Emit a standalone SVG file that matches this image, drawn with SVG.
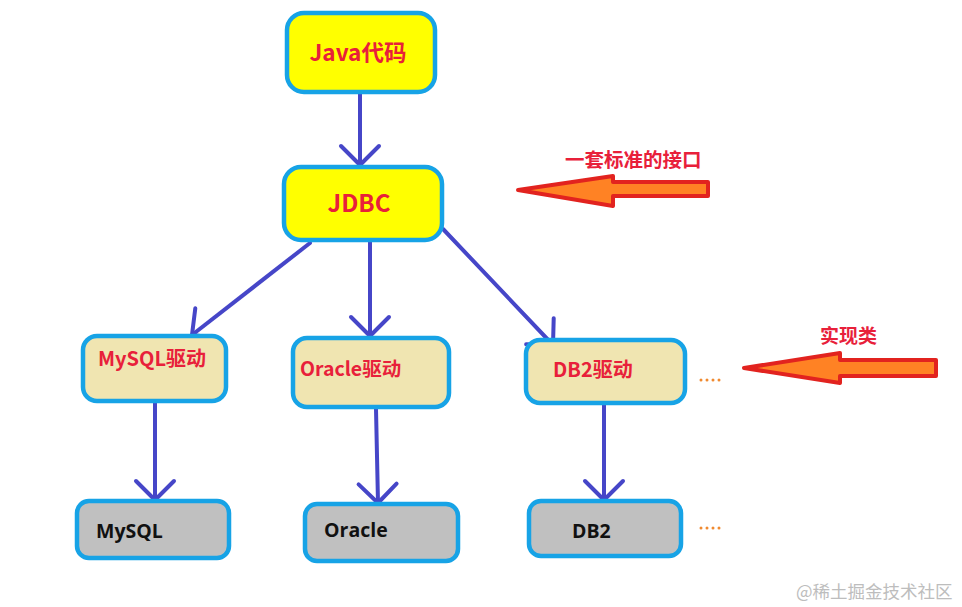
<svg xmlns="http://www.w3.org/2000/svg" width="962" height="607" viewBox="0 0 962 607">
<style>
.box{stroke:#17a3e6;stroke-width:4.5}
.y{fill:#ffff00}
.k{fill:#f0e5b1}
.g{fill:#c0c0c0}
.t{font-family:"Noto Sans CJK SC","Noto Sans",sans-serif;font-weight:bold;fill:#e8203a}
.b{font-family:"Open Sans","Noto Sans",sans-serif;font-weight:bold;fill:#111;font-size:19.5px}
.c{stroke:#4646c8;stroke-width:4;fill:none;stroke-linecap:round}
.big{fill:#ff8224;stroke:#e2231f;stroke-width:4;stroke-linejoin:round}
.dots{fill:#f08a30}
</style>
<defs>
<marker id="v" markerUnits="userSpaceOnUse" viewBox="-24 -24 28 48" refX="0" refY="0" markerWidth="28" markerHeight="48" orient="auto" overflow="visible">
<path d="M-19,-19 L0,0 L-19,19" fill="none" stroke="#4646c8" stroke-width="4" stroke-linecap="round" stroke-linejoin="round"/>
</marker>
</defs>
<rect width="962" height="607" fill="#fff"/>
<g id="connectors">
<line class="c" x1="360" y1="94" x2="360" y2="165" marker-end="url(#v)"/>
<line class="c" x1="310" y1="243" x2="192" y2="335" marker-end="url(#v)"/>
<line class="c" x1="370" y1="242" x2="370" y2="336" marker-end="url(#v)"/>
<line class="c" x1="443" y1="229" x2="553" y2="345" marker-end="url(#v)"/>
<line class="c" x1="155" y1="403" x2="155" y2="500" marker-end="url(#v)"/>
<line class="c" x1="376" y1="409" x2="378" y2="503" marker-end="url(#v)"/>
<line class="c" x1="604" y1="405" x2="604" y2="500" marker-end="url(#v)"/>
</g>
<g id="java">
<rect class="box y" x="287" y="13" width="148" height="79" rx="17"/>
<text class="t" x="358" y="61" font-size="22.5" text-anchor="middle">Java代码</text>
</g>
<g id="jdbc">
<rect class="box y" x="284" y="167" width="158" height="73" rx="17"/>
<text class="t" x="359" y="212" font-size="24" text-anchor="middle">JDBC</text>
</g>
<g id="mysql-driver">
<rect class="box k" x="83" y="336" width="143" height="65" rx="14"/>
<text class="t" x="98" y="366" font-size="20">MySQL驱动</text>
</g>
<g id="oracle-driver">
<rect class="box k" x="293" y="338" width="156" height="69" rx="14"/>
<text class="t" x="300" y="376" font-size="19.5">Oracle驱动</text>
</g>
<g id="db2-driver">
<rect class="box k" x="526" y="340" width="159" height="63" rx="14"/>
<text class="t" x="553" y="377" font-size="20">DB2驱动</text>
</g>
<g id="mysql">
<rect class="box g" x="77" y="501" width="152" height="57" rx="12"/>
<text class="b" x="96" y="538">MySQL</text>
</g>
<g id="oracle">
<rect class="box g" x="305" y="504" width="153" height="57" rx="12"/>
<text class="b" x="324" y="537">Oracle</text>
</g>
<g id="db2">
<rect class="box g" x="529" y="501" width="152" height="55" rx="12"/>
<text class="b" x="572" y="538">DB2</text>
</g>
<g id="interface-arrow">
<polygon class="big" points="708,182 613,182 613,176 518,190 613,206 613,196 708,196"/>
<text class="t" x="565" y="167" font-size="19.5">一套标准的接口</text>
</g>
<g id="impl-arrow">
<polygon class="big" points="936,360 840,360 840,353 744,368 840,383 840,376 936,376"/>
<text class="t" x="820" y="343" font-size="19">实现类</text>
</g>
<g id="more">
<circle class="dots" cx="701" cy="380" r="1.5"/><circle class="dots" cx="707" cy="380" r="1.5"/><circle class="dots" cx="713" cy="380" r="1.5"/><circle class="dots" cx="719" cy="380" r="1.5"/>
<circle class="dots" cx="701" cy="528" r="1.5"/><circle class="dots" cx="707" cy="528" r="1.5"/><circle class="dots" cx="713" cy="528" r="1.5"/><circle class="dots" cx="719" cy="528" r="1.5"/>
</g>
<text x="796" y="598" font-family="Noto Sans CJK SC,sans-serif" font-size="17.5" fill="#bdbdbd">@稀土掘金技术社区</text>
</svg>
